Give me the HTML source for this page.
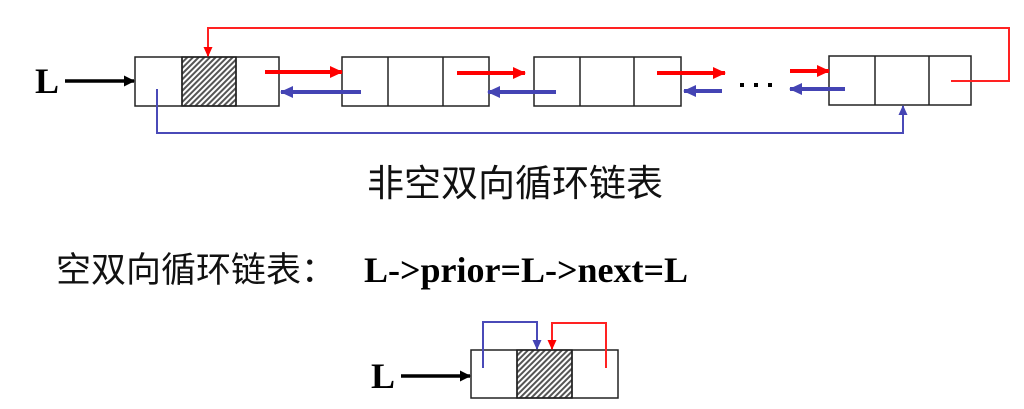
<!DOCTYPE html>
<html><head><meta charset="utf-8"><style>
body{margin:0;background:#fff;}
svg{display:block}
</style></head><body>
<svg width="1024" height="409" viewBox="0 0 1024 409" xmlns="http://www.w3.org/2000/svg">
<defs>
<pattern id="h" width="4" height="4" patternUnits="userSpaceOnUse" patternTransform="rotate(45)">
<rect width="4" height="4" fill="#fff"/><rect width="2" height="4" fill="#555"/></pattern>
<marker id="ak" markerWidth="11" markerHeight="11" refX="10" refY="5.5" orient="auto" markerUnits="userSpaceOnUse"><path d="M0,0L11,5.5L0,11z" fill="#000"/></marker>
<marker id="ar" markerWidth="10" markerHeight="9" refX="9" refY="4.5" orient="auto" markerUnits="userSpaceOnUse"><path d="M0,0L10,4.5L0,9z" fill="#f00"/></marker>
<marker id="ab" markerWidth="10" markerHeight="9" refX="9" refY="4.5" orient="auto" markerUnits="userSpaceOnUse"><path d="M0,0L10,4.5L0,9z" fill="#4444b4"/></marker>
<marker id="ar2" markerWidth="13" markerHeight="12" refX="12" refY="6" orient="auto" markerUnits="userSpaceOnUse"><path d="M0,0L13,6L0,12z" fill="#f00"/></marker>
<marker id="ab2" markerWidth="13" markerHeight="12" refX="12" refY="6" orient="auto" markerUnits="userSpaceOnUse"><path d="M0,0L13,6L0,12z" fill="#4444b4"/></marker>
</defs>
<g stroke="#222" stroke-width="1.5" fill="none">
<rect x="182" y="57" width="54" height="49" fill="url(#h)"/>
<rect x="135" y="57" width="144" height="49"/><line x1="182" y1="57" x2="182" y2="106"/><line x1="236" y1="57" x2="236" y2="106"/>
<rect x="342" y="57" width="147" height="49"/><line x1="388" y1="57" x2="388" y2="106"/><line x1="443" y1="57" x2="443" y2="106"/>
<rect x="534" y="57" width="147" height="49"/><line x1="580" y1="57" x2="580" y2="106"/><line x1="634" y1="57" x2="634" y2="106"/>
<rect x="829" y="56" width="142" height="49"/><line x1="875" y1="56" x2="875" y2="105"/><line x1="929" y1="56" x2="929" y2="105"/>
<rect x="517" y="350" width="55" height="48" fill="url(#h)"/>
<rect x="471" y="350" width="147" height="48"/><line x1="517" y1="350" x2="517" y2="398"/><line x1="572" y1="350" x2="572" y2="398"/>
</g>
<g stroke="#000" stroke-width="3.5"><line x1="65" y1="81" x2="134" y2="81" marker-end="url(#ak)"/><line x1="401" y1="376" x2="470" y2="376" marker-end="url(#ak)"/></g>
<g stroke="#f22" stroke-width="2" fill="none">
<polyline points="951,81 1009,81 1009,28 208,28 208,56" marker-end="url(#ar)"/>
<polyline points="606,368 606,323 552,323 552,349" marker-end="url(#ar)"/>
</g>
<g stroke="#4a4ab8" stroke-width="2" fill="none">
<polyline points="157,89 157,133 903,133 903,106" marker-end="url(#ab)"/>
<polyline points="483,368 483,322 537,322 537,349" marker-end="url(#ab)"/>
</g>
<g stroke="#f00" stroke-width="4">
<line x1="265" y1="72" x2="342" y2="72" marker-end="url(#ar2)"/>
<line x1="457" y1="73" x2="525" y2="73" marker-end="url(#ar2)"/>
<line x1="657" y1="73" x2="725" y2="73" marker-end="url(#ar2)"/>
<line x1="790" y1="71" x2="829" y2="71" marker-end="url(#ar2)"/>
</g>
<g stroke="#4444b4" stroke-width="4">
<line x1="361" y1="92" x2="281" y2="92" marker-end="url(#ab2)"/>
<line x1="556" y1="92" x2="488" y2="92" marker-end="url(#ab2)"/>
<line x1="722" y1="91" x2="684" y2="91" marker-end="url(#ab2)"/>
<line x1="845" y1="89" x2="790" y2="89" marker-end="url(#ab2)"/>
</g>
<g fill="#000"><rect x="740" y="83" width="4" height="4"/><rect x="754" y="83" width="4" height="4"/><rect x="768" y="83" width="4" height="4"/></g>
<g font-family="Liberation Serif, serif" font-weight="bold" font-size="36">
<text x="35" y="93">L</text><text x="371" y="388">L</text>
<text x="364" y="282">L-&gt;prior=L-&gt;next=L</text>
</g>
<g font-family="Liberation Sans, Noto Sans CJK SC, sans-serif" font-size="37" fill="#111">
<text x="367" y="196">非空双向循环链表</text>
<text x="56" y="282" font-size="35">空双向循环链表：</text>
</g>
</svg>
</body></html>
